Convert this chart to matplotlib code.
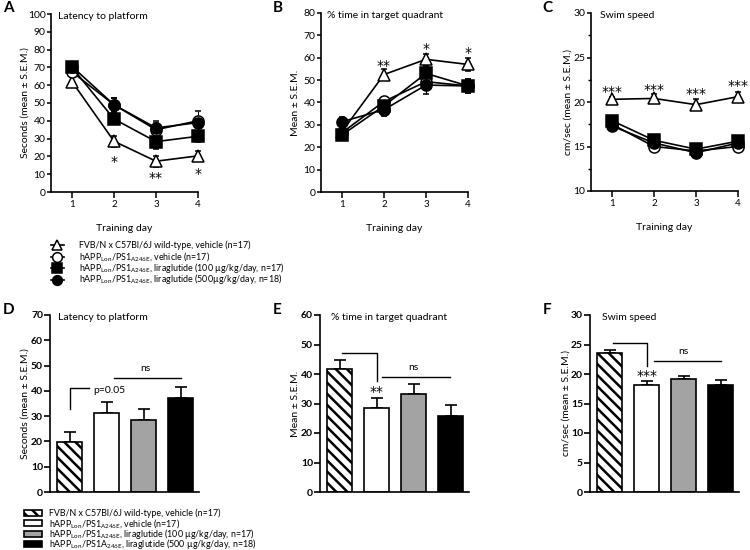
import matplotlib
matplotlib.use('Agg')
import matplotlib.pyplot as plt
from matplotlib.lines import Line2D
from matplotlib.patches import Rectangle
from matplotlib.ticker import MultipleLocator

plt.rcParams['font.family'] = ['Lato', 'DejaVu Sans']
plt.rcParams['mathtext.fontset'] = 'custom'
plt.rcParams['mathtext.rm'] = 'Lato'
plt.rcParams['hatch.linewidth'] = 1.8
plt.rcParams['axes.linewidth'] = 1.2

# ---------------- data ----------------
days = [1, 2, 3, 4]

lat_wt = [62, 28.5, 17.3, 20.3]
lat_wt_err = [2.5, 3, 3, 3]
lat_veh = [67.5, 49, 35, 40]
lat_veh_err = [3, 4, 4, 5.5]
lat_l100 = [70, 41, 28.3, 31.3]
lat_l100_err = [2.5, 3, 4, 3]
lat_l500 = [70.5, 49, 36, 39]
lat_l500_err = [2.5, 4, 4, 3]

tq_wt = [27, 52.5, 59.3, 57]
tq_wt_err = [2, 2.5, 2.5, 3]
tq_veh = [26.5, 40.5, 49.3, 47.4]
tq_veh_err = [2, 2, 3, 3]
tq_l100 = [25.5, 38.5, 53, 47.4]
tq_l100_err = [2, 3, 3.5, 2.5]
tq_l500 = [31.4, 36.8, 47.8, 47.4]
tq_l500_err = [2, 3, 4, 3]

ss_wt = [20.3, 20.4, 19.7, 20.6]
ss_wt_err = [0.3, 0.5, 0.6, 0.5]
ss_veh = [17.5, 15.0, 14.5, 15.0]
ss_veh_err = [0.3, 0.4, 0.4, 0.4]
ss_l100 = [17.9, 15.7, 14.7, 15.6]
ss_l100_err = [0.3, 0.5, 0.4, 0.4]
ss_l500 = [17.3, 15.4, 14.3, 15.4]
ss_l500_err = [0.3, 0.4, 0.4, 0.4]

lat_stars = ['*', '**', '*']
lat_star_days = [2, 3, 4]
lat_star_y = [17.0, 8.0, 10.0]
tq_stars = ['**', '*', '*']
tq_star_days = [2, 3, 4]
tq_star_y = [56.5, 64, 62]
ss_stars = ['***', '***', '***', '***']
ss_star_days = [1, 2, 3, 4]
ss_star_y = [21.1, 21.3, 20.9, 21.8]

bar_groups = [0, 1, 2, 3]
bar_lat = [19.7, 31.4, 28.3, 37.3]
bar_lat_err = [4.0, 4.0, 4.6, 4.3]
bar_tq = [41.7, 28.4, 33.1, 25.9]
bar_tq_err = [3.1, 3.5, 3.5, 3.7]
bar_ss = [23.5, 18.2, 19.2, 18.1]
bar_ss_err = [0.6, 0.6, 0.5, 0.8]

line_labels = [
    'FVB/N x C57Bl/6J wild-type, vehicle (n=17)',
    r'hAPP$_{\mathregular{Lon}}$/PS1$_{\mathregular{A246E}}$, vehicle (n=17)',
    r'hAPP$_{\mathregular{Lon}}$/PS1$_{\mathregular{A246E}}$, liraglutide (100 µg/kg/day, n=17)',
    r'hAPP$_{\mathregular{Lon}}$/PS1$_{\mathregular{A246E}}$, liraglutide (500µg/kg/day, n=18)',
]
bar_labels = [
    'FVB/N x C57Bl/6J wild-type, vehicle (n=17)',
    r'hAPP$_{\mathregular{Lon}}$/PS1$_{\mathregular{A246E}}$, vehicle (n=17)',
    r'hAPP$_{\mathregular{Lon}}$/PS1$_{\mathregular{A246E}}$, liraglutide (100 µg/kg/day, n=17)',
    r'hAPP$_{\mathregular{Lon}}$/PS1A$_{\mathregular{246E}}$, liraglutide (500 µg/kg/day, n=18)',
]

# ---------------- styles ----------------
series_style = [
    dict(marker='^', mfc='white', mec='black'),
    dict(marker='o', mfc='white', mec='black'),
    dict(marker='s', mfc='black', mec='black'),
    dict(marker='o', mfc='black', mec='black'),
]
bar_face = ['white', 'white', '#a3a3a3', 'black']
bar_hatch = ['\\\\\\', None, None, None]

W, H = 750, 550
fig = plt.figure(figsize=(7.5, 5.5), dpi=100)


def fx(px):
    return px / W


def fy(py):
    return 1 - py / H


def line_panel(left_px, top_px, bot_px, series, ylim, ymajor, yminor, title, ylabel,
               ylab_x, stars, star_days, star_y, title_x, star_size):
    ax = fig.add_axes([fx(left_px), fy(bot_px), 147 / W, (bot_px - top_px) / H])
    for (vals, errs), st in zip(series, series_style):
        ax.errorbar(days, vals, yerr=errs, color='black', lw=1.2, ms=8,
                    mew=1.1, capsize=2, elinewidth=0.8, capthick=0.8,
                    clip_on=False, zorder=3, **st)
    ax.set_xlim(0.5, 4)
    ax.set_ylim(*ylim)
    ax.set_xticks(days)
    ax.yaxis.set_major_locator(MultipleLocator(ymajor))
    if yminor:
        ax.yaxis.set_minor_locator(MultipleLocator(yminor))
    ax.spines['top'].set_visible(False)
    ax.spines['right'].set_visible(False)
    ax.tick_params(axis='x', length=4, width=1.1, labelsize=7, pad=2)
    ax.tick_params(axis='y', length=3, width=1.1, labelsize=7.5, pad=1)
    ax.tick_params(axis='y', which='minor', length=2, width=1.0)
    ax.set_xlabel('Training day', fontsize=7.5)
    ax.xaxis.set_label_coords(0.5, -0.18)
    ax.set_ylabel(ylabel, fontsize=7.5)
    ax.yaxis.set_label_coords(ylab_x, 0.5)
    ax.text(title_x, 0.985, title, transform=ax.transAxes, fontsize=7.5, va='center', ha='left')
    for s, d, y in zip(stars, star_days, star_y):
        ax.text(d, y, s, ha='center', va='center', fontsize=star_size, clip_on=False,
                family='DejaVu Sans')
    return ax


axA = line_panel(51, 14, 192,
                 [(lat_wt, lat_wt_err), (lat_veh, lat_veh_err), (lat_l100, lat_l100_err), (lat_l500, lat_l500_err)],
                 (0, 100), 10, None, 'Latency to platform', 'Seconds (mean ± S.E.M.)',
                 -0.143, lat_stars, lat_star_days, lat_star_y, 0.05, 10)
axB = line_panel(321, 13, 192,
                 [(tq_wt, tq_wt_err), (tq_veh, tq_veh_err), (tq_l100, tq_l100_err), (tq_l500, tq_l500_err)],
                 (0, 80), 10, None, '% time in target quadrant', 'Mean ± S.E.M.',
                 -0.143, tq_stars, tq_star_days, tq_star_y, 0.04, 10)
axC = line_panel(591, 13, 191,
                 [(ss_wt, ss_wt_err), (ss_veh, ss_veh_err), (ss_l100, ss_l100_err), (ss_l500, ss_l500_err)],
                 (10, 30), 5, 2.5, 'Swim speed', 'cm/sec (mean ± S.E.M.)',
                 -0.122, ss_stars, ss_star_days, ss_star_y, 0.06, 10)


def bar_panel(left_px, vals, errs, ylim, ymajor, title, ylabel, ylab_x, title_x):
    ax = fig.add_axes([fx(left_px), fy(492), 149 / W, (492 - 315) / H])
    for g, v, e, fc, h in zip(bar_groups, vals, errs, bar_face, bar_hatch):
        ax.bar(g, v, width=0.68, color=fc, edgecolor='black', lw=1.2, hatch=h, zorder=2)
        ax.errorbar(g, v, yerr=[[0], [e]], color='black', capsize=4, elinewidth=1.2,
                    capthick=1.2, fmt='none', zorder=1)
    ax.set_xlim(-0.53, 3.5)
    ax.set_ylim(*ylim)
    ax.set_xticks([])
    ax.yaxis.set_major_locator(MultipleLocator(ymajor))
    ax.spines['top'].set_visible(False)
    ax.spines['right'].set_visible(False)
    ax.tick_params(axis='y', length=4, width=1.2, labelsize=7.5, pad=1)
    for lab in ax.get_yticklabels():
        lab.set_fontweight('bold')
    ax.set_ylabel(ylabel, fontsize=7.5)
    ax.yaxis.set_label_coords(ylab_x, 0.5)
    ax.text(title_x, 0.985, title, transform=ax.transAxes, fontsize=7.5, va='center', ha='left')
    return ax


axD = bar_panel(50, bar_lat, bar_lat_err, (0, 70), 10, 'Latency to platform',
                'Seconds (mean ± S.E.M.)', -0.134, 0.054)
axE = bar_panel(320, bar_tq, bar_tq_err, (0, 60), 10, '% time in target quadrant',
                'Mean ± S.E.M.', -0.134, 0.074)
axF = bar_panel(590, bar_ss, bar_ss_err, (0, 30), 5, 'Swim speed',
                'cm/sec (mean ± S.E.M.)', -0.128, 0.08)

# significance annotations
kw = dict(color='black', lw=1.0, clip_on=False)
axD.plot([0, 0, 0.53], [33, 41, 41], **kw)
axD.text(0.64, 40.3, 'p=0.05', fontsize=7.5, va='center', ha='left')
axD.plot([1.2, 3.0], [45, 45], **kw)
axD.text(2.04, 48.7, 'ns', fontsize=7.5, va='center', ha='center')

axE.plot([0.07, 1.0, 1.0], [47.1, 47.1, 37.5], **kw)
axE.text(1.0, 33.8, '**', fontsize=10, va='center', ha='center', family='DejaVu Sans')
axE.plot([1.16, 2.98], [39, 39], **kw)
axE.text(2.0, 42.3, 'ns', fontsize=7.5, va='center', ha='center')

axF.plot([0.1, 1.02, 1.02], [25.2, 25.2, 21.3], **kw)
axF.text(1.0, 19.6, '***', fontsize=10, va='center', ha='center', family='DejaVu Sans')
axF.plot([1.19, 3.0], [22.2, 22.2], **kw)
axF.text(2.0, 23.8, 'ns', fontsize=7.5, va='center', ha='center')

# panel letters
for letter, xpx, ypx in [('A', 3, 8), ('B', 273, 8), ('C', 542, 8),
                         ('D', 3, 310), ('E', 273, 310), ('F', 543, 310)]:
    fig.text(fx(xpx), fy(ypx), letter, fontsize=11, fontweight='bold', va='center', ha='left')

# legend for line panels (drawn row by row)
line_rows = [245, 256.5, 268, 279.5]
for st, lab, ypx in zip(series_style, line_labels, line_rows):
    fig.add_artist(Line2D([fx(51), fx(64)], [fy(ypx), fy(ypx)], transform=fig.transFigure,
                          color='black', lw=1.2))
    fig.add_artist(Line2D([fx(57.5)], [fy(ypx)], transform=fig.transFigure, ls='none',
                          ms=7, mew=1.1, **st))
    fig.text(fx(79), fy(ypx + 3), lab, fontsize=6.4, va='baseline', ha='left')

# legend for bar panels
bar_rows = [513, 523.3, 533.6, 544]
for fc, h, lab, ypx in zip(bar_face, bar_hatch, bar_labels, bar_rows):
    fig.add_artist(Rectangle((fx(24), fy(ypx + 3)), fx(18), 6 / H, transform=fig.transFigure,
                             facecolor=fc, edgecolor='black', lw=1.2, hatch=h))
    fig.text(fx(49), fy(ypx + 3), lab, fontsize=6.4, va='baseline', ha='left')

fig.savefig('out.png', dpi=100)
